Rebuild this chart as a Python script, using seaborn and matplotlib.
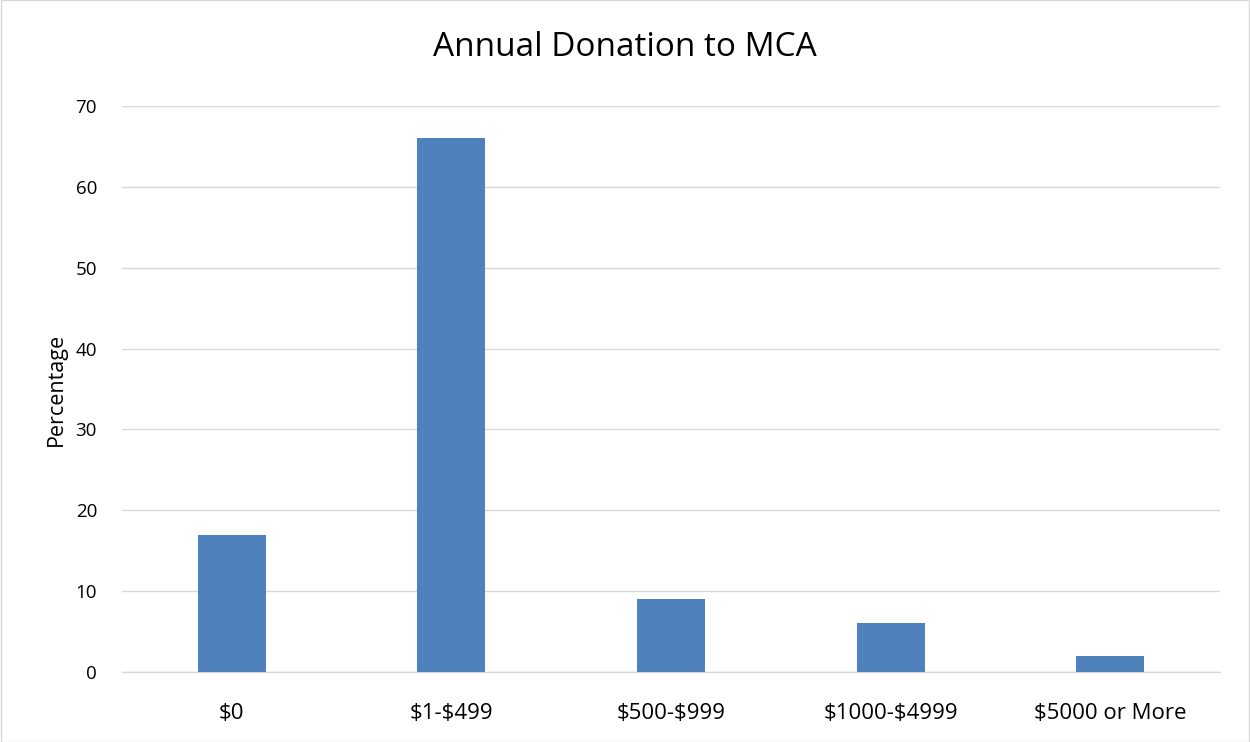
import matplotlib
matplotlib.use("Agg")
import matplotlib.pyplot as plt
import seaborn as sns
import pandas as pd

categories = ["$0", "$1-$499", "$500-$999", "$1000-$4999", "$5000 or More"]
percentages = [17, 66, 9, 6, 2]
yticks = [0, 10, 20, 30, 40, 50, 60, 70]

sns.set_theme(style="white")
plt.rcParams['font.family'] = ['Open Sans', 'DejaVu Sans']
plt.rcParams['text.parse_math'] = False
plt.rcParams['text.color'] = 'black'
plt.rcParams['xtick.color'] = 'black'
plt.rcParams['ytick.color'] = 'black'
plt.rcParams['axes.labelcolor'] = 'black'

df = pd.DataFrame({"cat": categories, "pct": percentages})

fig = plt.figure(figsize=(12.5, 7.42), dpi=100)
ax = fig.add_axes([122/1250, 1-672/742, (1220-122)/1250, (672-106)/742])
sns.barplot(data=df, x="cat", y="pct", color="#4f81bd", width=0.31, saturation=1,
            linewidth=0, edgecolor="none", ax=ax, zorder=3)

ax.set_ylim(0, 70)
ax.set_yticks(yticks)
ax.set_xlim(-0.5, 4.5)
ax.grid(axis="y", color="#d9d9d9", linewidth=1, zorder=0)
for s in ["top", "right", "left"]:
    ax.spines[s].set_visible(False)
ax.spines["bottom"].set_color("#d9d9d9")
ax.spines["bottom"].set_linewidth(1)
ax.tick_params(axis="y", labelsize=13.5, length=0, pad=18)
ax.tick_params(axis="x", labelsize=16, length=0, pad=22)
ax.set_xlabel("")
ax.set_ylabel("Percentage", fontsize=15.5, labelpad=6)
fig.text(0.5, 1-47/742, "Annual Donation to MCA", ha="center", va="center", fontsize=24)

fig.patches.append(plt.Rectangle((0.0005, 0.0005), 0.999, 0.999, transform=fig.transFigure,
                                 fill=False, edgecolor="#d9d9d9", linewidth=1))
fig.savefig("out.png", dpi=100)
